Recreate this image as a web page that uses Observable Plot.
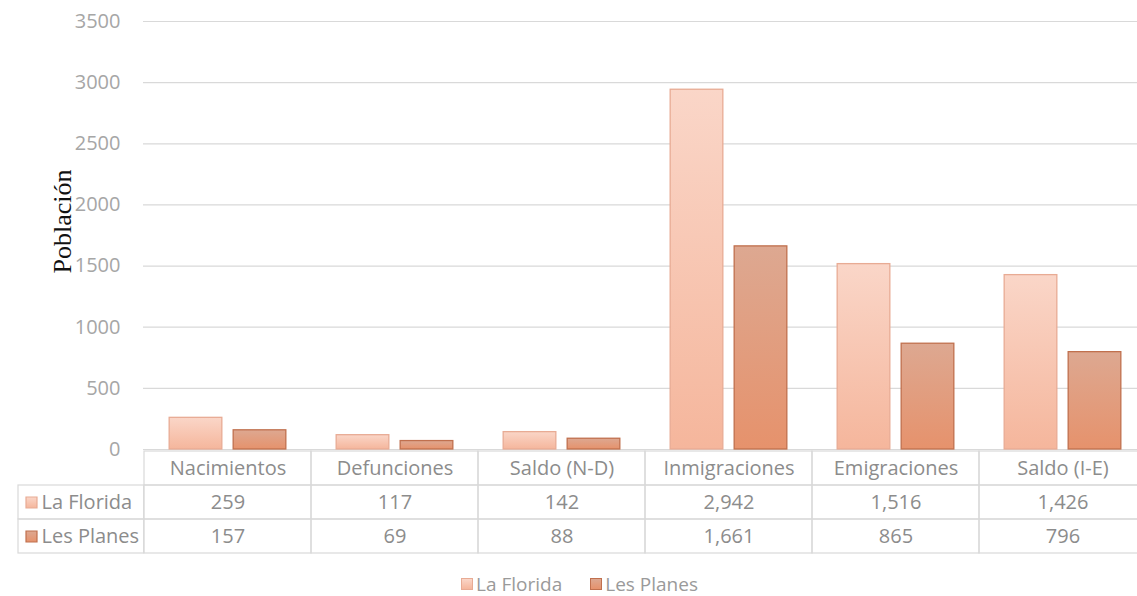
<!DOCTYPE html>
<html>
<head>
<meta charset="utf-8">
<script src="https://cdn.jsdelivr.net/npm/d3@7"></script>
<script src="https://cdn.jsdelivr.net/npm/@observablehq/plot@0.6"></script>
<style>
  html, body { margin: 0; padding: 0; background: #fff; overflow: hidden; }
  #root { width: 1147px; }
  #root svg { display: block; }
  .legend { display: flex; justify-content: center; align-items: center; gap: 0; padding-top: 18px; padding-left: 12px;
            font-family: "Open Sans", sans-serif; font-size: 19px; color: #9a9a9a; line-height: 22px; }
  .legend .item { display: flex; align-items: center; margin: 0 14px; }
  .legend .sw { width: 12px; height: 12px; margin-right: 3px; box-sizing: border-box; }
</style>
</head>
<body>
<div id="root"></div>
<script>
// ---- data ----
const categories = ["Nacimientos", "Defunciones", "Saldo (N-D)", "Inmigraciones", "Emigraciones", "Saldo (I-E)"];
const series = ["La Florida", "Les Planes"];
const laFlorida = [259, 117, 142, 2942, 1516, 1426];
const lesPlanes = [157, 69, 88, 1661, 865, 796];
const yTicks = [0, 500, 1000, 1500, 2000, 2500, 3000, 3500];
const yLabel = "Población";

// ---- styles ----
const seriesStyle = {
  "La Florida": { id: "gLF", top: "#fad6c8", bottom: "#f5b69c", stroke: "#e8ab94" },
  "Les Planes": { id: "gLP", top: "#dda891", bottom: "#e6926c", stroke: "#c0704e" }
};

const values = { "La Florida": laFlorida, "Les Planes": lesPlanes };
const data = series.flatMap(s => categories.map((c, i) => ({ category: c, series: s, value: values[s][i] })));

const W = 1147, ML = 143;
const bw = (W - ML) / categories.length;
const barW = 53, gap = 11, outer = (bw - 2 * barW - gap) / 2;

const font = "'Open Sans', sans-serif";
const tableColor = "#8c8c8c";
const gridColor = "#d9d9d9";

function addDefs(svg, suffix) {
  const defs = d3.select(svg).insert("defs", ":first-child");
  for (const s of series) {
    const st = seriesStyle[s];
    const g = defs.append("linearGradient").attr("id", st.id + suffix).attr("x1", 0).attr("y1", 0).attr("x2", 0).attr("y2", 1);
    g.append("stop").attr("offset", "0%").attr("stop-color", st.top);
    g.append("stop").attr("offset", "100%").attr("stop-color", st.bottom);
  }
}

const chart = Plot.plot({
  width: W, height: 450,
  marginTop: 21, marginBottom: 1, marginLeft: ML, marginRight: 0,
  x: { domain: categories, padding: 0, axis: null },
  y: { domain: [0, 3500], label: null },
  style: { fontFamily: font, fontSize: "20px", background: "#fff", overflow: "visible" },
  marks: [
    Plot.gridY(yTicks, { stroke: gridColor, strokeOpacity: 1, strokeWidth: 1.2 }),
    Plot.axisY(yTicks, { tickSize: 0, tickPadding: 23, fill: "#a6a6a6", label: null, fontSize: 20, tickFormat: d => String(d) }),
    ...series.map((s, k) => Plot.barY(data.filter(d => d.series === s), {
      x: "category", y: "value",
      fill: `url(#${seriesStyle[s].id}C)`, stroke: seriesStyle[s].stroke, strokeWidth: 1.3,
      insetLeft: k === 0 ? outer : outer + barW + gap,
      insetRight: k === 0 ? outer + barW + gap : outer
    })),
    Plot.text([yLabel], {
      frameAnchor: "left", textAnchor: "middle", dx: -81, dy: -14, rotate: -90,
      fontFamily: "'Liberation Serif', 'DejaVu Serif', serif", fontSize: 26, fill: "#111"
    })
  ]
});
addDefs(chart, "C");

const headerRow = "__header";
const valueCells = data;
const headerCells = categories.map(c => ({ category: c }));
const allCells = [...headerCells.map(d => ({ category: d.category, row: headerRow })),
                  ...data.map(d => ({ category: d.category, row: d.series }))];

const table = Plot.plot({
  width: W, height: 105,
  marginTop: 0, marginBottom: 2, marginLeft: ML, marginRight: 0,
  x: { domain: categories, padding: 0, axis: null },
  y: { domain: [headerRow, ...series], padding: 0, axis: null },
  style: { fontFamily: font, fontSize: "20px", background: "none", overflow: "visible" },
  marks: [
    Plot.cell(allCells, { x: "category", y: "row", fill: "none", stroke: gridColor, strokeWidth: 1.2 }),
    Plot.cell(series, { x: () => categories[0], y: d => d, insetLeft: -(ML - 17), insetRight: bw, fill: "none", stroke: gridColor, strokeWidth: 1.2 }),
    Plot.text(headerCells, { x: "category", y: () => headerRow, text: "category", fill: tableColor, fontSize: 20 }),
    Plot.text(valueCells, { x: "category", y: "series", text: d => d3.format(",")(d.value), fill: tableColor, fontSize: 20 }),
    Plot.dot(series, {
      frameAnchor: "left", y: d => d, dx: -(ML - 31), symbol: "square", r: 6.2,
      fill: d => `url(#${seriesStyle[d].id}T)`, stroke: d => seriesStyle[d].stroke, strokeWidth: 1.2
    }),
    Plot.text(series, { frameAnchor: "left", y: d => d, dx: -(ML - 41), textAnchor: "start", fill: tableColor, fontSize: 20 })
  ]
});
addDefs(table, "T");

const legend = document.createElement("div");
legend.className = "legend";
for (const s of series) {
  const st = seriesStyle[s];
  const item = document.createElement("div");
  item.className = "item";
  const sw = document.createElement("span");
  sw.className = "sw";
  sw.style.background = `linear-gradient(${st.top}, ${st.bottom})`;
  sw.style.border = `1.2px solid ${st.stroke}`;
  const t = document.createElement("span");
  t.textContent = s;
  item.append(sw, t);
  legend.append(item);
}

const root = document.getElementById("root");
root.append(chart, table, legend);
</script>
</body>
</html>
